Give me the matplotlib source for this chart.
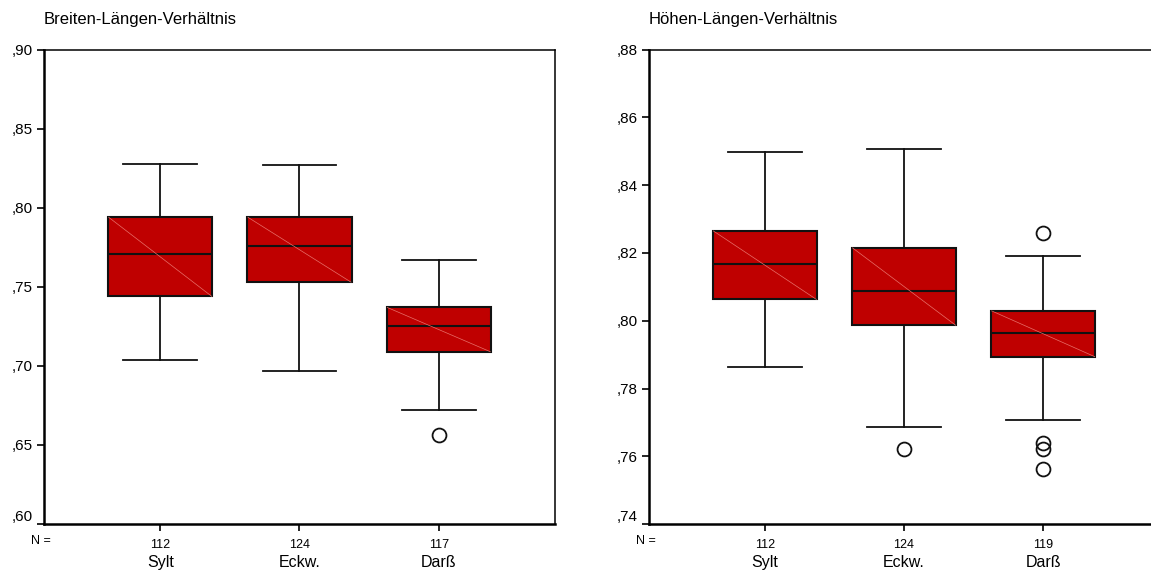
import numpy as np
import matplotlib
matplotlib.use("Agg")
import matplotlib.pyplot as plt

plt.rcParams['font.family'] = ['Liberation Sans', 'DejaVu Sans']

groups = ["Sylt", "Eckw.", "Darß"]

# Breiten-Laengen-Verhaeltnis
bl_n = [112, 124, 117]
bl_whislo = [0.704, 0.697, 0.672]
bl_q1 = [0.744, 0.753, 0.709]
bl_med = [0.771, 0.776, 0.725]
bl_q3 = [0.794, 0.794, 0.737]
bl_whishi = [0.828, 0.827, 0.767]
bl_fliers = [[], [], [0.656]]

# Hoehen-Laengen-Verhaeltnis
hl_n = [112, 124, 119]
hl_whislo = [0.7864, 0.7687, 0.7706]
hl_q1 = [0.8063, 0.7987, 0.7894]
hl_med = [0.8168, 0.8089, 0.7965]
hl_q3 = [0.8265, 0.8215, 0.8029]
hl_whishi = [0.8497, 0.8506, 0.8191]
hl_fliers = [[], [0.7622], [0.8260, 0.7638, 0.7622, 0.7562]]

box_red = "#bf0000"
diag_col = "#e8706a"


def draw_panel(ax, title, n, lo, q1, med, q3, hi, fl, ylim, yticks):
    stats = []
    for i in range(len(groups)):
        stats.append(dict(whislo=lo[i], q1=q1[i], med=med[i], q3=q3[i],
                          whishi=hi[i], fliers=fl[i], label=str(n[i])))
    pos = np.arange(1, len(groups) + 1)
    ax.bxp(stats, positions=pos, widths=0.75, patch_artist=True,
           boxprops=dict(facecolor=box_red, edgecolor="#111111", linewidth=1.5),
           medianprops=dict(color="#111111", linewidth=1.5),
           whiskerprops=dict(color="#111111", linewidth=1.3),
           capprops=dict(color="#111111", linewidth=1.3),
           capwidths=0.53,
           flierprops=dict(marker="o", markerfacecolor="none",
                           markeredgecolor="#111111", markersize=10,
                           markeredgewidth=1.3))
    # faint diagonal inside each box
    for i, p in enumerate(pos):
        ax.plot([p - 0.37, p + 0.37], [q3[i], q1[i]], color=diag_col,
                linewidth=0.5, zorder=3)

    ax.set_xlim(0.165, 3.835)
    ax.set_ylim(*ylim)
    ax.set_yticks(yticks)
    ax.set_yticklabels(["," + ("%.2f" % t).split(".")[1] for t in yticks],
                       fontsize=11)
    ax.get_yticklabels()[0].set_va("bottom")
    ax.tick_params(axis="y", direction="out", length=5, width=1.2, pad=3)
    ax.tick_params(axis="x", direction="out", length=5, width=1.2,
                   labelsize=9, pad=6)
    for s in ["left", "bottom"]:
        ax.spines[s].set_linewidth(1.8)
    for s in ["top", "right"]:
        ax.spines[s].set_linewidth(1.1)

    trans = ax.get_xaxis_transform()
    ax.text(-0.006, -0.035, "N =", transform=ax.transAxes, fontsize=9,
            ha="center", va="center")
    for i, p in enumerate(pos):
        ax.text(p, -0.081, groups[i], transform=trans, fontsize=11.5,
                ha="center", va="center")
    ax.text(0.0, 1.063, title, transform=ax.transAxes, fontsize=12,
            ha="left", va="center")


fig = plt.figure(figsize=(11.51, 5.73), dpi=100)
ax1 = fig.add_axes([0.0382, 0.0855, 0.444, 0.8277])
ax2 = fig.add_axes([0.5636, 0.0855, 0.4437, 0.8277])

draw_panel(ax1, "Breiten-Längen-Verhältnis", bl_n, bl_whislo, bl_q1, bl_med,
           bl_q3, bl_whishi, bl_fliers, (0.60, 0.90),
           [0.60, 0.65, 0.70, 0.75, 0.80, 0.85, 0.90])
draw_panel(ax2, "Höhen-Längen-Verhältnis", hl_n, hl_whislo, hl_q1, hl_med,
           hl_q3, hl_whishi, hl_fliers, (0.74, 0.88),
           [0.74, 0.76, 0.78, 0.80, 0.82, 0.84, 0.86, 0.88])

fig.savefig("out.png", dpi=100)
